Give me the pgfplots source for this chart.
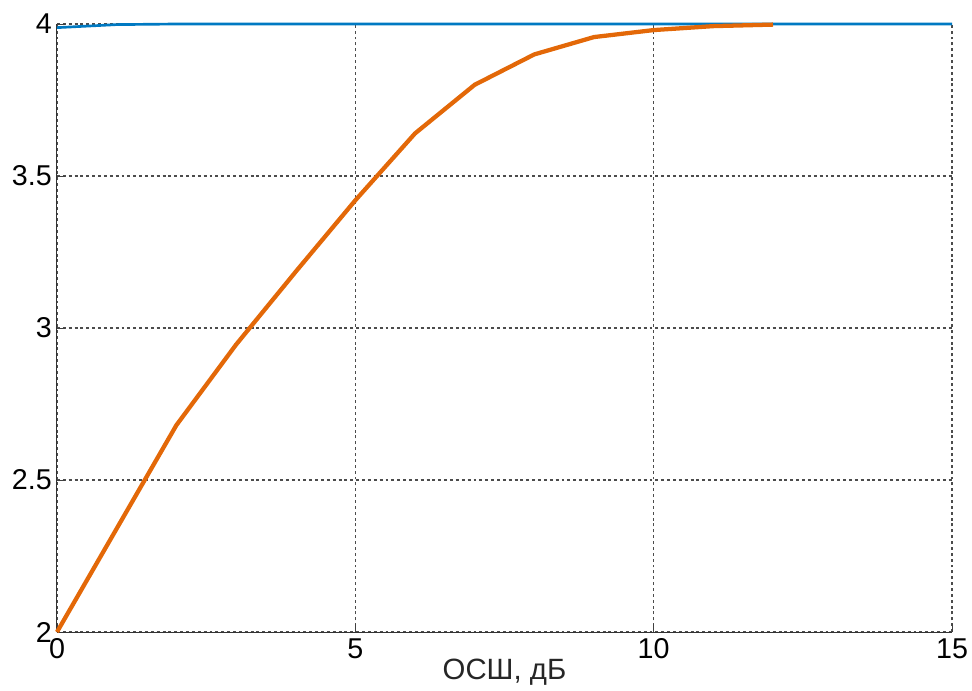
\documentclass[border=0pt]{standalone}
\usepackage{fontspec}
\setmainfont{Liberation Sans}
\usepackage{pgfplots}
\pgfplotsset{compat=1.18}
\definecolor{lblue}{RGB}{0,121,194}
\definecolor{lorange}{RGB}{227,104,8}
\begin{document}
\begin{tikzpicture}
\begin{axis}[
  scale only axis,
  width=671.25pt, height=456pt,
  xmin=0, xmax=15, ymin=2, ymax=4,
  xtick={0,5,10,15}, ytick={2,2.5,3,3.5,4},
  axis x line=bottom, axis y line=left,
  axis line style={-, black!80, line width=0.75pt},
  tick align=inside,
  major tick length=6pt,
  tick style={black!75, line width=0.6pt},
  grid=major,
  major grid style={black!70, line width=0.8pt, dash pattern=on 2.2pt off 2.2pt},
  /pgf/number format/assume math mode=true,
  ticklabel style={font=\fontsize{21.5}{25}\selectfont, text=black},
  yticklabel style={inner xsep=3.75pt},
  xticklabel style={yshift=-1.5pt},
  xlabel={ОСШ, дБ},
  xlabel style={at={(axis description cs:0.5,0)}, anchor=north, yshift=-20pt, inner sep=0pt, font=\fontsize{22}{26}\selectfont, text=black!85},
  clip=false,
]
\addplot[lblue, line width=2pt] coordinates {
(0,3.988) (1,3.998) (2,4) (3,4) (4,4) (5,4) (6,4) (7,4) (8,4) (9,4) (10,4) (11,4) (12,4) (13,4) (14,4) (15,4)
};
\addplot[lorange, line width=3.2pt] coordinates {
(0,2) (1,2.34) (2,2.68) (3,2.945) (4,3.185) (5,3.42) (6,3.64) (7,3.80) (8,3.90) (9,3.957) (10,3.98) (11,3.993) (12,3.998)
};
\end{axis}
\pgfresetboundingbox
\useasboundingbox (-42.75pt,-43.5pt) rectangle (686.25pt,474pt);
\end{tikzpicture}
\end{document}
